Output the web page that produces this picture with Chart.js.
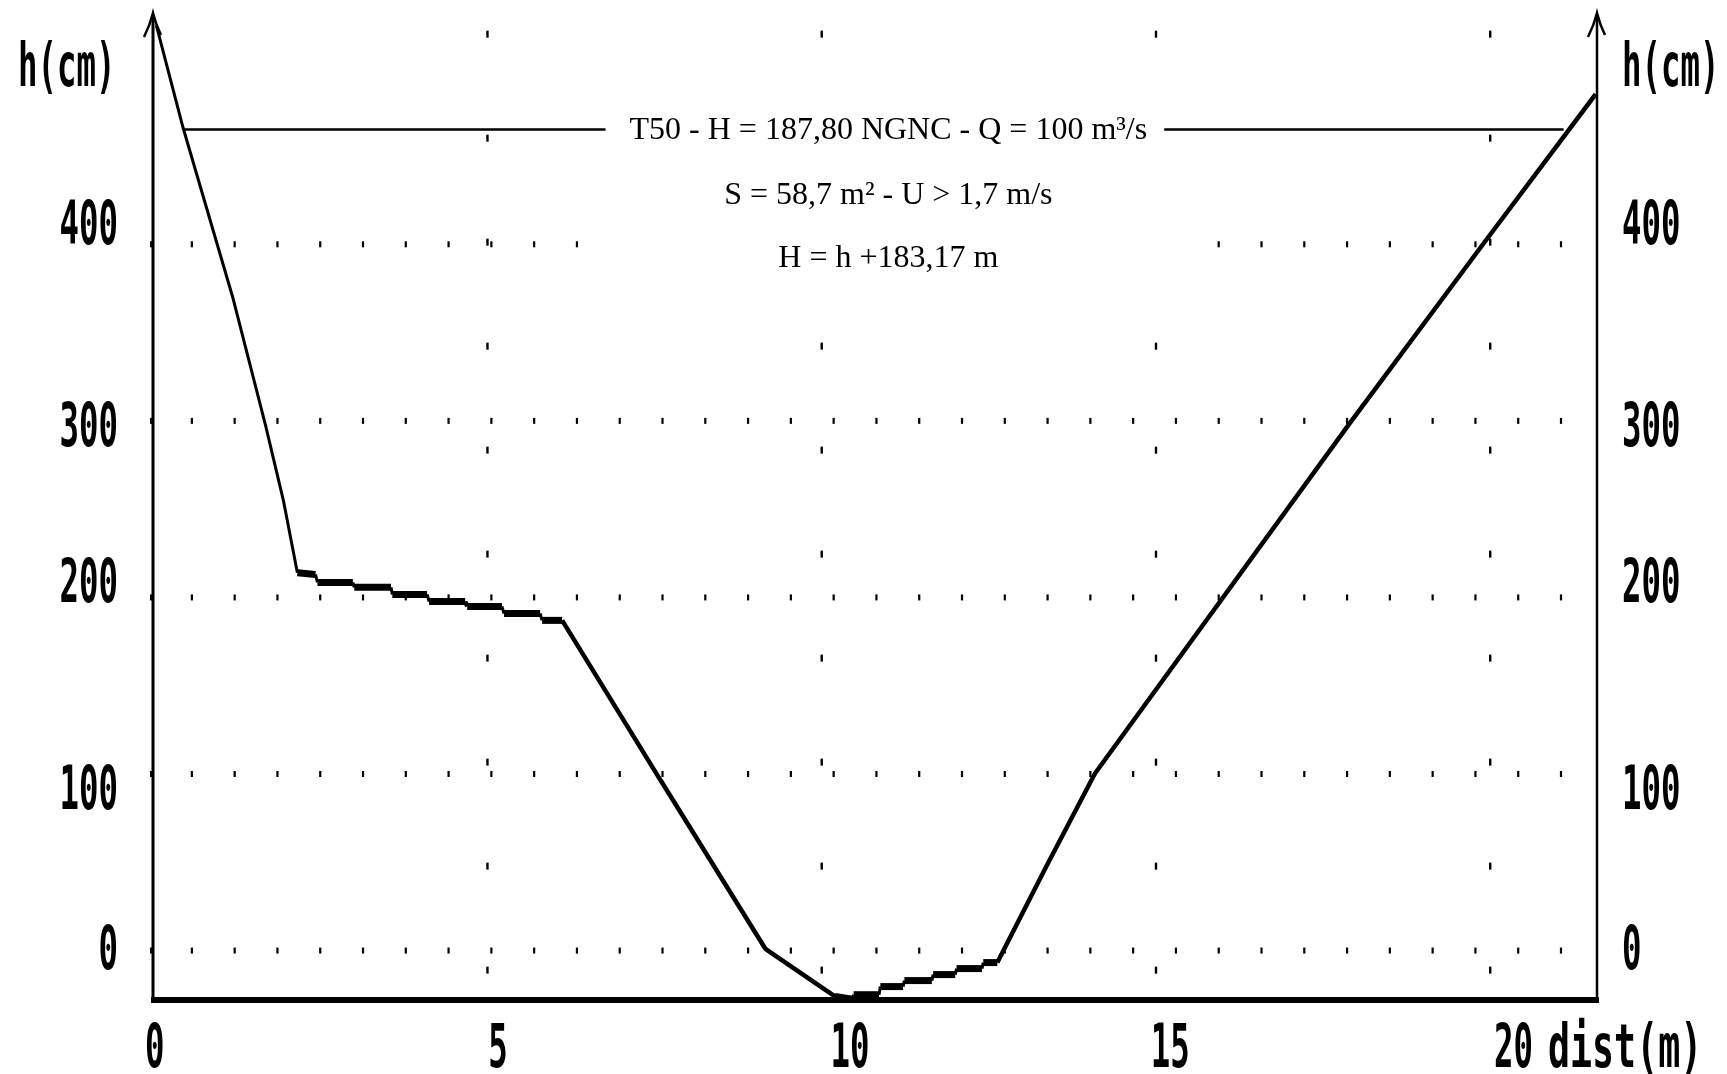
<!DOCTYPE html>
<html>
<head>
<meta charset="utf-8">
<title>Profil en travers T50</title>
<script src="https://cdn.jsdelivr.net/npm/chart.js@4.4.1/dist/chart.umd.min.js"></script>
<style>
  html, body { margin: 0; padding: 0; background: #fff; }
  #wrap { width: 1727px; height: 1074px; }
</style>
</head>
<body>
<div id="wrap"><canvas id="profileChart" width="1727" height="1074"></canvas></div>
<script>
// --- cross-section profile: distance (m), height h (cm) ---
const profileDist = [
  0.05, 0.45, 1.20, 1.68, 1.95, 2.16,
  2.43, 2.46, 2.99, 3.01, 3.56, 3.58, 4.10, 4.13, 4.67, 4.70, 5.22, 5.25, 5.79, 5.82, 6.12,
  7.60, 9.16, 10.20, 10.46,
  10.48, 10.86, 10.88, 11.22, 11.24, 11.65, 11.67, 12.00, 12.02, 12.40, 12.42, 12.63,
  13.36, 14.09, 17.90, 19.90, 21.58
];
const profileH = [
  524, 466, 369, 298, 255, 214,
  213, 208.5, 208.5, 205.7, 205.7, 201.7, 201.7, 197.7, 197.7, 194.9, 194.9, 190.9, 190.9, 187, 187,
  96, 1, -26, -27.5,
  -25, -25, -20.4, -20.4, -17, -17, -13.6, -13.6, -10.2, -10.2, -6.8, -6.8,
  47.5, 100.3, 298.6, 400.3, 485
];

// water level T50 (h in cm)
const waterDist = [0.45, 21.1];
const waterH = [465, 465];

const xTicks = [0, 5, 10, 15, 20];
const yTicks = [0, 100, 200, 300, 400];
const xRange = [0, 21.6];
const yRange = [-28, 531];

const noteLines = [
  "T50 - H = 187,80 NGNC - Q = 100 m³/s",
  "S = 58,7 m² - U > 1,7 m/s",
  "H = h +183,17 m"
];

// --- helpers ---
const LABEL_FONT = 'bold 60px "DejaVu Sans Mono"';
const SQUEEZE = 0.54;

function squeezedText(ctx, text, x, baseline, align, squeeze) {
  const k = squeeze || SQUEEZE;
  ctx.save();
  ctx.font = LABEL_FONT;
  ctx.textBaseline = 'alphabetic';
  ctx.textAlign = 'left';
  const w = ctx.measureText(text).width * k;
  let left = x;
  if (align === 'right') left = x - w;
  if (align === 'center') left = x - w / 2;
  ctx.translate(left, baseline);
  ctx.scale(k, 1);
  ctx.fillStyle = '#000';
  ctx.fillText(text, 0, 0);
  ctx.restore();
}

// small nudges so the labels sit where the old plotter put them
const yLabelNudge = { 0: -4, 100: 13, 200: -17, 300: 3, 400: -22 };
const xLabelNudge = { 0: -8, 5: 1, 10: 9, 15: -5, 20: 4 };

const NOTE_CENTER = 11.0;   // m, centre of the text block

const frame = {
  id: 'frame',
  beforeDatasetsDraw(chart) {
    const ctx = chart.ctx;
    const xs = chart.scales.x, ys = chart.scales.y;
    ctx.save();
    ctx.fillStyle = '#000';
    // dotted rows at each h tick
    yTicks.forEach(v => {
      const py = ys.getPixelForValue(v);
      for (let d = 0.58; d < 21.2; d += 0.64) {
        const px = xs.getPixelForValue(d);
        ctx.fillRect(px - 1, py - 3, 2.2, 6);
      }
      ctx.fillRect(xs.left - 3, py - 3, 4, 6);
    });
    // dotted columns every 5 m
    xTicks.slice(1).forEach(v => {
      const px = xs.getPixelForValue(v);
      for (let h = -10.8; h < 530; h += 58.9) {
        const py = ys.getPixelForValue(h);
        ctx.fillRect(px - 1, py - 3, 2.4, 7);
      }
    });
    // the text block was pasted over the grid: clear it
    const cx = xs.getPixelForValue(NOTE_CENTER);
    const wy = ys.getPixelForValue(waterH[0]);
    ctx.fillStyle = '#fff';
    ctx.fillRect(cx - 305, wy - 18, 610, 170);
    ctx.restore();
  },
  afterDatasetsDraw(chart) {
    const ctx = chart.ctx;
    const xs = chart.scales.x, ys = chart.scales.y;
    const area = chart.chartArea;
    ctx.save();
    ctx.strokeStyle = '#000';
    ctx.lineCap = 'butt';

    // vertical axes with arrow heads
    [[area.left, 3], [area.right, 2.5]].forEach(([ax, w]) => {
      ctx.lineWidth = w;
      ctx.beginPath();
      ctx.moveTo(ax, area.bottom);
      ctx.lineTo(ax, area.top + 2);
      ctx.stroke();
      ctx.lineWidth = 2.5;
      ctx.beginPath();
      ctx.moveTo(ax - 9, area.top + 24);
      ctx.quadraticCurveTo(ax - 3, area.top + 12, ax, area.top);
      ctx.quadraticCurveTo(ax + 3, area.top + 12, ax + 8, area.top + 22);
      ctx.stroke();
    });
    // thick bottom axis
    ctx.lineWidth = 6;
    ctx.beginPath();
    ctx.moveTo(area.left - 2, area.bottom);
    ctx.lineTo(area.right + 2, area.bottom);
    ctx.stroke();

    // notes on the water line
    ctx.font = '32px "Liberation Serif"';
    ctx.textAlign = 'center';
    ctx.textBaseline = 'middle';
    const cx = xs.getPixelForValue(NOTE_CENTER);
    const wy = ys.getPixelForValue(waterH[0]);
    const w0 = ctx.measureText(noteLines[0]).width;
    ctx.fillStyle = '#fff';
    ctx.fillRect(cx - w0 / 2 - 24, wy - 8, w0 + 41, 16);
    ctx.fillStyle = '#000';
    ctx.fillText(noteLines[0], cx, wy + 1);
    ctx.fillText(noteLines[1], cx, wy + 66);
    ctx.fillText(noteLines[2], cx, wy + 129);

    // tick labels, both sides
    yTicks.forEach(v => {
      const base = ys.getPixelForValue(v) + yLabelNudge[v] + 22;
      squeezedText(ctx, String(v), area.left - 35, base, 'right');
      squeezedText(ctx, String(v), area.right + 25, base, 'left');
    });
    xTicks.forEach(v => {
      squeezedText(ctx, String(v), xs.getPixelForValue(v) + xLabelNudge[v], 1067, 'left');
    });
    squeezedText(ctx, 'dist(m)', 1548, 1067, 'left', 0.61);
    squeezedText(ctx, 'h(cm)', 18, 86, 'left');
    squeezedText(ctx, 'h(cm)', 1622, 86, 'left');
    ctx.restore();
  }
};

const profilePoints = profileDist.map((d, i) => ({ x: d, y: profileH[i] }));
const waterPoints = waterDist.map((d, i) => ({ x: d, y: waterH[i] }));

new Chart(document.getElementById('profileChart'), {
  type: 'line',
  data: {
    datasets: [
      {
        label: 'niveau T50',
        data: waterPoints,
        borderColor: '#000',
        borderWidth: 2.5,
        pointRadius: 0,
        tension: 0
      },
      {
        label: 'profil',
        data: profilePoints,
        borderColor: '#000',
        borderWidth: 4,
        borderJoinStyle: 'bevel',
        pointRadius: 0,
        tension: 0,
        segment: {
          borderWidth: c => {
            const dx = Math.abs(c.p1.x - c.p0.x), dy = Math.abs(c.p1.y - c.p0.y);
            if (dy < 0.5 * dx) return 7;
            if (dy > 2.5 * dx) return 3;
            return 4.5;
          }
        }
      }
    ]
  },
  options: {
    responsive: false,
    animation: false,
    devicePixelRatio: 1,
    layout: { padding: { left: 153, right: 130, top: 13, bottom: 74 } },
    scales: {
      x: { type: 'linear', min: xRange[0], max: xRange[1], display: false },
      y: { type: 'linear', min: yRange[0], max: yRange[1], display: false }
    },
    plugins: {
      legend: { display: false },
      tooltip: { enabled: false }
    }
  },
  plugins: [frame]
});
</script>
</body>
</html>
